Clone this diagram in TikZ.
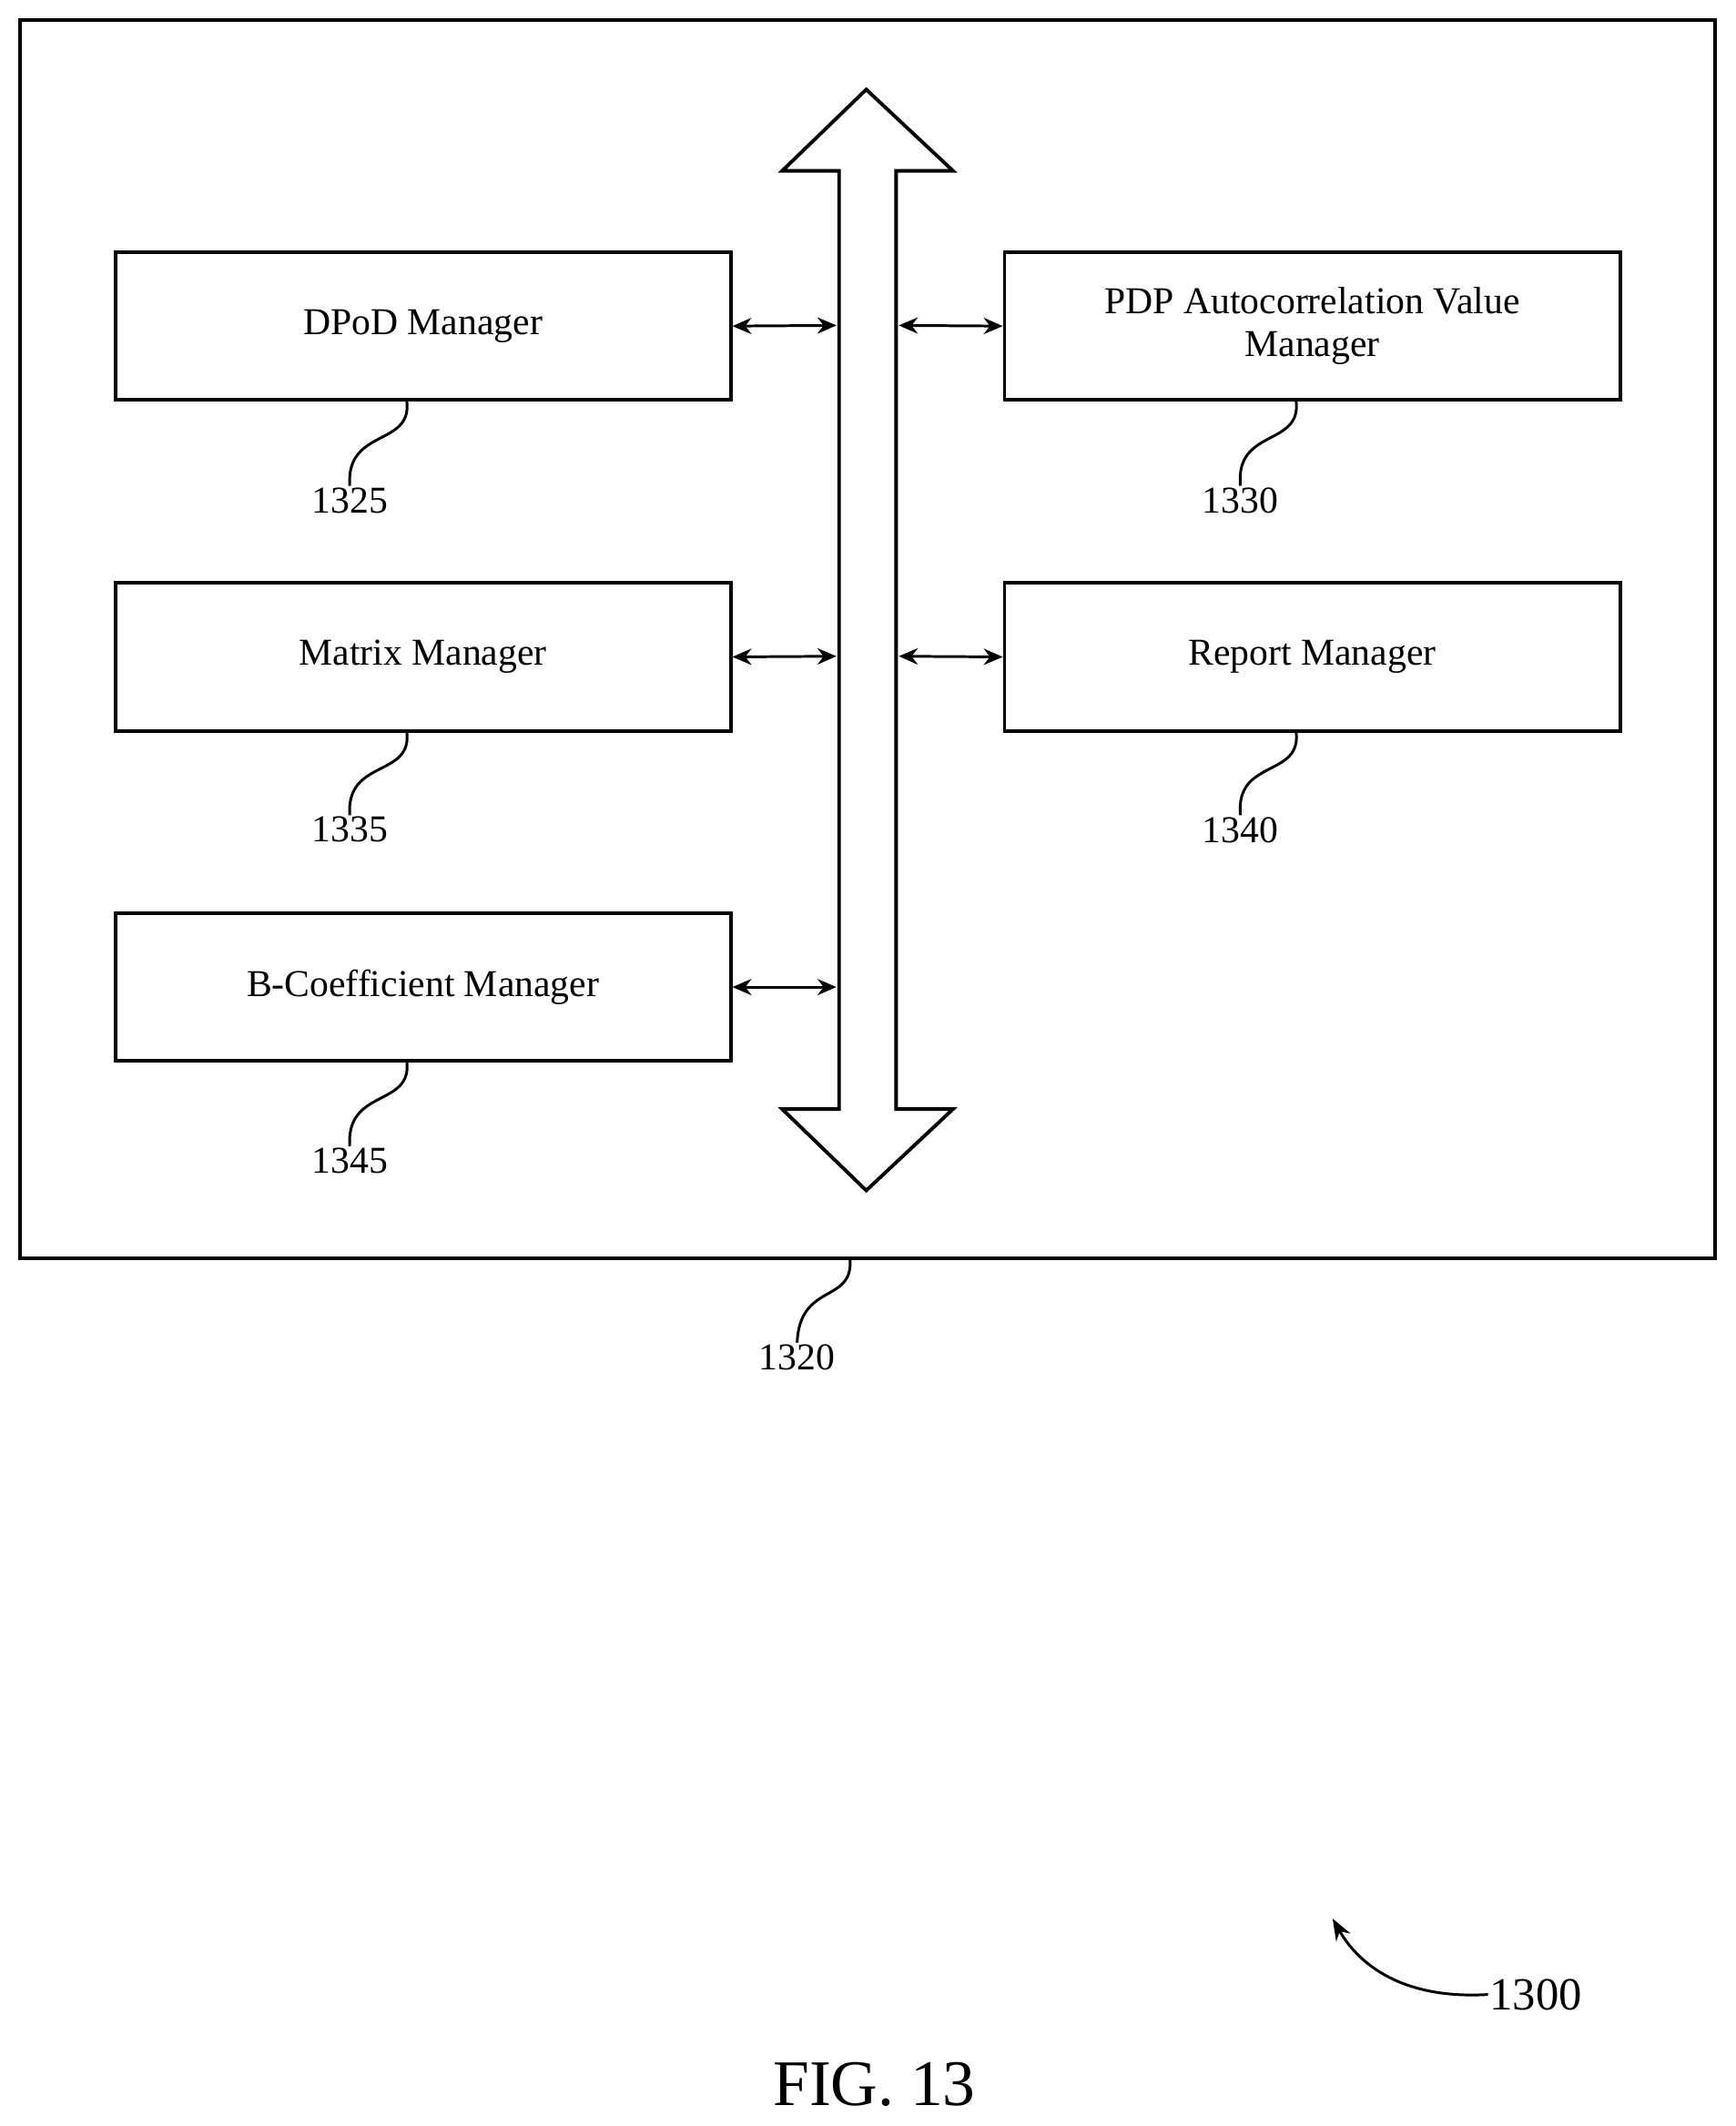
\documentclass[tikz,border=0pt]{standalone}
\usepackage{fontspec}
\setmainfont{Liberation Serif}
\usetikzlibrary{arrows.meta}
\begin{document}
\begin{tikzpicture}[x=0.5pt,y=0.5pt,yscale=-1,line width=1.3pt,
  mgr/.style={draw,minimum width=227pt,minimum height=54.5pt,align=center,font=\fontsize{14}{16}\selectfont,inner sep=0pt},
  lbl/.style={font=\fontsize{14}{16}\selectfont,inner sep=0pt},
  link/.style={{Stealth[length=7pt,width=6pt]}-{Stealth[length=7pt,width=6pt]},line width=1pt}]
\useasboundingbox (0,0) rectangle (1280,1568);

% frame
\draw (15,15) rectangle (1265,928);

% bus
\draw (619,126) -- (577,126) -- (639,66) -- (703,126) -- (661,126) -- (661,818)
  -- (703,818) -- (639,878) -- (577,818) -- (619,818) -- cycle;
\coordinate (busL1) at (617,240); \coordinate (busR1) at (663,240);
\coordinate (busL2) at (617,484); \coordinate (busR2) at (663,484);
\coordinate (busL3) at (617,728);

% managers
\node[mgr] (dpod) at (312,240.5) {DPoD Manager};
\node[mgr] (pdp) at (968,240.5) {PDP Autocorrelation Value\\Manager};
\node[mgr] (matrix) at (312,484.5) {Matrix Manager};
\node[mgr] (report) at (968,484.5) {Report Manager};
\node[mgr] (bcoef) at (312,728) {B-Coefficient Manager};

\draw[link] (dpod.east) -- (busL1);
\draw[link] (matrix.east) -- (busL2);
\draw[link] (bcoef.east) -- (busL3);
\draw[link] (pdp.west) -- (busR1);
\draw[link] (report.west) -- (busR2);

% reference numerals
\node[lbl] (n1325) at (258,369) {1325};
\node[lbl] (n1330) at (915,369) {1330};
\node[lbl] (n1335) at (258,612) {1335};
\node[lbl] (n1340) at (915,612) {1340};
\node[lbl] (n1345) at (258,856) {1345};
\node[lbl] (n1320) at (588,1001) {1320};
\node[lbl,font=\fontsize{17}{19}\selectfont] (n1300) at (1133,1471) {1300};
\node[lbl,font=\fontsize{24}{26}\selectfont] (fig) at (645,1537) {FIG. 13};

\draw[line width=1pt] (300,295) .. controls (305,330) and (255,315) .. (n1325.north);
\draw[line width=1pt] (956,295) .. controls (961,330) and (911,315) .. (n1330.north);
\draw[line width=1pt] (300,539) .. controls (305,574) and (255,559) .. (n1335.north);
\draw[line width=1pt] (956,539) .. controls (961,574) and (911,559) .. (n1340.north);
\draw[line width=1pt] (300,782) .. controls (305,817) and (255,802) .. (n1345.north);
\draw[line width=1pt] (627,928) .. controls (630,962) and (590,945) .. (n1320.north);
\draw[line width=1pt,-{Stealth[length=8pt,width=6pt]}] (n1300.west) .. controls (1030,1475) and (1000,1445) .. (983,1415);
\end{tikzpicture}
\end{document}
